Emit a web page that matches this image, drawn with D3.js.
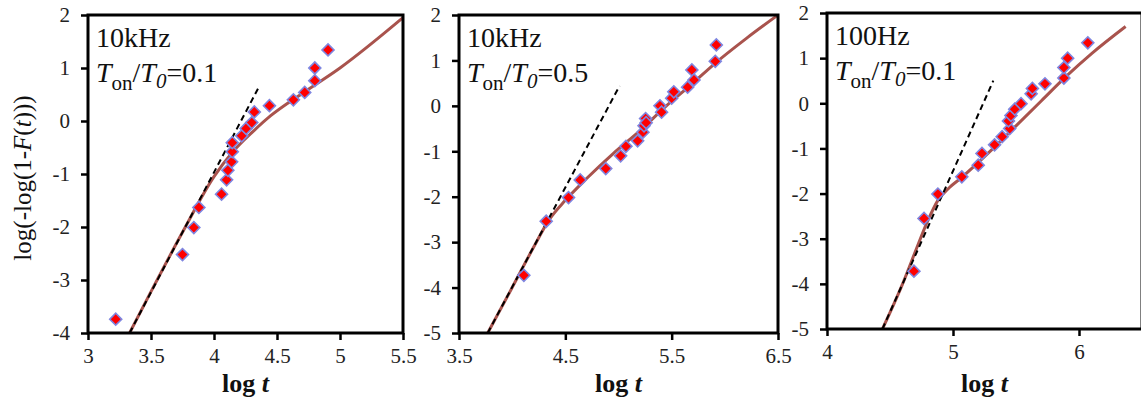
<!DOCTYPE html>
<html><head><meta charset="utf-8">
<script src="https://cdn.jsdelivr.net/npm/d3@7/dist/d3.min.js"></script>
<style>
html,body{margin:0;padding:0;background:#fff;}
svg{display:block;font-family:"Liberation Serif","Times New Roman",serif;}
</style></head>
<body><svg id="c" width="1141" height="403"></svg>
<script>
// ---------- data ----------
// panel 1: 10kHz, Ton/T0 = 0.1
const p1PointsX = [3.22,3.75,3.84,3.88,4.06,4.10,4.11,4.14,4.145,4.145,4.22,4.255,4.30,4.32,4.44,4.63,4.72,4.80,4.80,4.905];
const p1PointsY = [-3.74,-2.52,-2.01,-1.63,-1.38,-1.11,-0.93,-0.77,-0.58,-0.41,-0.28,-0.14,-0.03,0.17,0.29,0.40,0.54,0.76,1.00,1.34];
const p1CurveX = [3.33,3.5,3.75,4.0,4.15,4.3,4.45,4.7,5.0,5.5];
const p1CurveY = [-4,-3.22,-2.1,-1.05,-0.58,-0.22,0.1,0.52,1.0,1.95];
const p1DashX = [3.33,4.36];
const p1DashY = [-4,0.66];
// panel 2: 10kHz, Ton/T0 = 0.5
const p2PointsX = [4.11,4.32,4.53,4.64,4.88,5.02,5.07,5.18,5.23,5.24,5.255,5.26,5.39,5.405,5.50,5.52,5.65,5.69,5.71,5.91,5.92];
const p2PointsY = [-3.73,-2.54,-2.02,-1.63,-1.38,-1.10,-0.89,-0.77,-0.58,-0.44,-0.28,-0.37,0.0,-0.14,0.17,0.31,0.41,0.79,0.57,0.98,1.34];
const p2CurveX = [3.77,4.0,4.2,4.35,4.5,4.7,4.95,5.2,5.45,5.7,5.9,6.2,6.5];
const p2CurveY = [-5,-4.0,-3.12,-2.5,-2.08,-1.6,-1.05,-0.55,0.0,0.5,0.92,1.48,2.0];
const p2DashX = [3.77,5.01];
const p2DashY = [-5,0.44];
// panel 3: 100Hz, Ton/T0 = 0.1
const p3PointsX = [4.69,4.77,4.88,5.07,5.20,5.23,5.33,5.39,5.45,5.44,5.46,5.49,5.54,5.62,5.63,5.73,5.88,5.88,5.91,6.07];
const p3PointsY = [-3.72,-2.55,-2.01,-1.63,-1.37,-1.11,-0.92,-0.74,-0.56,-0.39,-0.27,-0.13,-0.01,0.21,0.33,0.43,0.56,0.79,1.00,1.34];
const p3CurveX = [4.44,4.6,4.72,4.8,4.88,4.97,5.07,5.3,5.5,5.7,5.9,6.1,6.37];
const p3CurveY = [-5,-4.0,-3.15,-2.6,-2.15,-1.87,-1.64,-1.05,-0.5,0.05,0.6,1.1,1.7];
const p3DashX = [4.44,5.32];
const p3DashY = [-5,0.5];
// ticks
const p1XTicks = [3,3.5,4,4.5,5,5.5];
const p1XLabels = ["3","3.5","4","4.5","5","5.5"];
const p1YTicks = [-4,-3,-2,-1,0,1,2];
const p2XTicks = [3.5,4.5,5.5,6.5];
const p2XLabels = ["3.5","4.5","5.5","6.5"];
const p2YTicks = [-5,-4,-3,-2,-1,0,1,2];
const p3XTicks = [4,5,6];
const p3XLabels = ["4","5","6"];
const p3YTicks = [-5,-4,-3,-2,-1,0,1,2];
const panelFreq = ["10kHz","10kHz","100Hz"];
const panelRatio = ["0.1","0.5","0.1"];

// ---------- drawing ----------
const svg = d3.select("#c");
const curveColor = "#a9534d";
const serif = "'Liberation Serif', 'Times New Roman', serif";

function drawPanel(i, cfg){
  const x = d3.scaleLinear().domain(cfg.xDomain).range(cfg.xRange);
  const y = d3.scaleLinear().domain(cfg.yDomain).range(cfg.yRange);
  const g = svg.append("g");
  const clipId = "clip"+i;
  svg.append("clipPath").attr("id",clipId).append("rect")
    .attr("x",cfg.xRange[0]).attr("y",cfg.yRange[1])
    .attr("width",cfg.xRange[1]-cfg.xRange[0]).attr("height",cfg.yRange[0]-cfg.yRange[1]);

  const plot = g.append("g").attr("clip-path","url(#"+clipId+")");
  const curve = cfg.curveX.map((v,k)=>[v,cfg.curveY[k]]);
  plot.append("path").datum(curve)
    .attr("d",d3.line().x(d=>x(d[0])).y(d=>y(d[1])).curve(d3.curveMonotoneX))
    .attr("fill","none").attr("stroke",curveColor).attr("stroke-width",3);
  const dash = cfg.dashX.map((v,k)=>[v,cfg.dashY[k]]);
  plot.append("path").datum(dash)
    .attr("d",d3.line().x(d=>x(d[0])).y(d=>y(d[1])))
    .attr("fill","none").attr("stroke","#000").attr("stroke-width",2).attr("stroke-dasharray","6,4");

  const pts = cfg.px.map((v,k)=>[v,cfg.py[k]]);
  const sym = d3.symbol().type(d3.symbolSquare).size(72);
  g.selectAll(".pt"+i).data(pts).enter().append("path")
    .attr("d",sym)
    .attr("transform",d=>`translate(${x(d[0])},${y(d[1])}) rotate(45)`)
    .attr("fill","#ff0000").attr("stroke","#7f86e0").attr("stroke-width",1.6);

  // frame
  g.append("rect").attr("x",cfg.xRange[0]).attr("y",cfg.yRange[1])
    .attr("width",cfg.xRange[1]-cfg.xRange[0]).attr("height",cfg.yRange[0]-cfg.yRange[1])
    .attr("fill","none").attr("stroke","#000").attr("stroke-width",3);

  const xa = g.append("g").attr("transform",`translate(0,${cfg.yRange[0]})`)
    .call(d3.axisBottom(x).tickValues(cfg.xTicks).tickSize(7).tickPadding(8)
      .tickFormat((d,k)=>cfg.xLabels[k]));
  const ya = g.append("g").attr("transform",`translate(${cfg.xRange[0]},0)`)
    .call(d3.axisLeft(y).tickValues(cfg.yTicks).tickSize(7).tickPadding(11)
      .tickFormat(d=>String(d)));
  [xa,ya].forEach(a=>{
    a.attr("font-family",serif).attr("font-size",21);
    a.select(".domain").remove();
    a.selectAll(".tick line").attr("stroke","#000").attr("stroke-width",2.5);
    a.selectAll(".tick text").attr("fill","#222");
  });

  // x title
  const xt = g.append("text").attr("x",(cfg.xRange[0]+cfg.xRange[1])/2).attr("y",392)
    .attr("text-anchor","middle").attr("font-size",26).attr("font-weight","bold").attr("fill","#111");
  xt.append("tspan").text("log ");
  xt.append("tspan").attr("font-style","italic").text("t");

  // annotations
  const ax = cfg.xRange[0]+8, ay = cfg.yRange[1];
  g.append("text").attr("x",ax).attr("y",ay+32).attr("font-size",28).attr("fill","#111").text(panelFreq[i]);
  const t2 = g.append("text").attr("x",ax).attr("y",ay+67).attr("font-size",28).attr("fill","#111");
  t2.append("tspan").attr("font-style","italic").text("T");
  t2.append("tspan").attr("font-size",21).attr("dy",8).text("on");
  t2.append("tspan").attr("dy",-8).text("/");
  t2.append("tspan").attr("font-style","italic").text("T");
  t2.append("tspan").attr("font-style","italic").attr("font-size",21).attr("dy",6).text("0");
  t2.append("tspan").attr("dy",-6).text("=" + panelRatio[i]);
}

drawPanel(0,{xDomain:[3,5.5],xRange:[88,403],yDomain:[-4,2],yRange:[333,15],
  px:p1PointsX,py:p1PointsY,curveX:p1CurveX,curveY:p1CurveY,dashX:p1DashX,dashY:p1DashY,
  xTicks:p1XTicks,xLabels:p1XLabels,yTicks:p1YTicks});
drawPanel(1,{xDomain:[3.5,6.5],xRange:[459,778],yDomain:[-5,2],yRange:[333,15],
  px:p2PointsX,py:p2PointsY,curveX:p2CurveX,curveY:p2CurveY,dashX:p2DashX,dashY:p2DashY,
  xTicks:p2XTicks,xLabels:p2XLabels,yTicks:p2YTicks});
drawPanel(2,{xDomain:[4,6.5],xRange:[827,1142],yDomain:[-5,2],yRange:[329,13],
  px:p3PointsX,py:p3PointsY,curveX:p3CurveX,curveY:p3CurveY,dashX:p3DashX,dashY:p3DashY,
  xTicks:p3XTicks,xLabels:p3XLabels,yTicks:p3YTicks});

// y title
const yt = svg.append("text").attr("transform","translate(31,178) rotate(-90)")
  .attr("text-anchor","middle").attr("font-size",25).attr("fill","#111");
yt.append("tspan").text("log(-log(1-");
yt.append("tspan").attr("font-style","italic").text("F");
yt.append("tspan").text("(");
yt.append("tspan").attr("font-style","italic").text("t");
yt.append("tspan").text(")))");
</script></body></html>
